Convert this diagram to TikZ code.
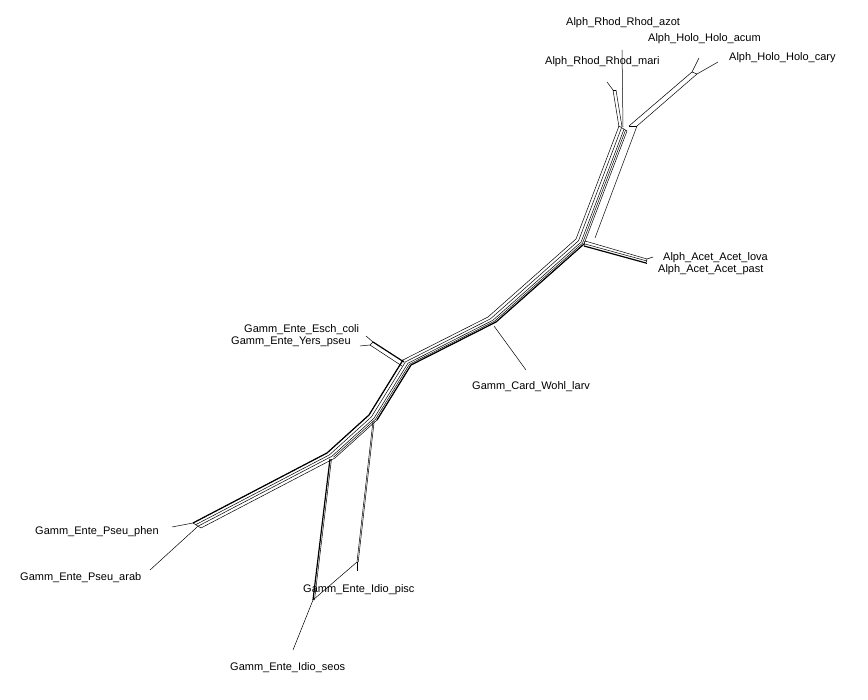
\documentclass[tikz,border=0pt]{standalone}
\usepackage{fontspec}
\setmainfont{Liberation Sans}
\usetikzlibrary{calc}
\begin{document}
\begin{tikzpicture}[x=1pt,y=-1pt,
  edge/.style={line width=0.5pt, black},
  heavy/.style={line width=1.2pt, black},
  lbl/.style={font=\fontsize{11}{13}\selectfont, anchor=west, inner sep=0pt}]
\useasboundingbox[fill=white] (0,0) rectangle (868,700);

% backbone vertices (top line of the band)
\coordinate (A) at (193,523);
\coordinate (B) at (327,453);
\coordinate (C) at (369,415);
\coordinate (D) at (403,360);
\coordinate (E) at (488,317);
\coordinate (F) at (576,239);
\coordinate (G) at (619,126);

% parallel edges of the main band
\foreach \dx/\dy in {0/0,2.5/1.8,5/3.2,8/5}
  \draw[edge] ($(A)+(\dx,\dy)$) -- ($(B)+(\dx,\dy)$) -- ($(C)+(\dx,\dy)$) -- ($(D)+(\dx,\dy)$)
     -- ($(E)+(\dx,\dy)$) -- ($(F)+(\dx,\dy)$) -- ($(G)+(\dx,\dy)$);
\draw[edge] ($(B)+(6.5,4.2)$) -- ($(C)+(6.5,4.2)$) -- ($(D)+(6.5,4.2)$) -- ($(E)+(6.5,4.2)$)
     -- ($(F)+(6.5,4.2)$) -- ($(G)+(6.5,4.2)$);
\draw[heavy] (A) -- (B) -- (C) -- (D);
\draw[heavy] ($(C)+(8,5)$) -- ($(D)+(8,5)$) -- ($(E)+(8,5)$) -- ($(F)+(8,5)$);
% band ends
\draw[edge] (A) -- ($(A)+(8,5)$);
\draw[edge] (G) -- ($(G)+(8,5)$);

% Pseudomonas leaves
\coordinate (phen) at (172,527);
\coordinate (arab) at (150,570);
\draw[edge] (A) -- (phen);
\draw[edge] ($(A)+(5,3.2)$) -- (arab);

% Idiomarina branches
\coordinate (Bi) at (330,459);
\coordinate (Ci) at (373,421);
\coordinate (Ib) at (313,600);
\coordinate (Ic) at (357,562);
\coordinate (pisc) at (357,571);
\coordinate (seos) at (293,650);
\draw[heavy] (Bi) -- (Ib);
\draw[edge] ($(Bi)+(1.5,0)$) -- ($(Ib)+(1.5,0)$);
\draw[edge] (Ci) -- (Ic);
\draw[edge] ($(Ci)+(1.2,0)$) -- ($(Ic)+(1.2,0)$);
\draw[edge] (Ic) -- (pisc);
\draw[edge] (Ic) -- (Ib);
\draw[edge] (Ib) -- (seos);

% Escherichia / Yersinia
\coordinate (Dy) at (404,362);
\coordinate (Yn) at (373,342);
\coordinate (esch) at (366,336);
\coordinate (yers) at (360,346);
\draw[heavy] (Dy) -- (Yn);
\draw[edge] ($(Dy)+(-2,4)$) -- ($(Yn)+(-3,3)$);
\draw[edge] (Yn) -- ($(Yn)+(-3,3)$);
\draw[edge] (Yn) -- (esch);
\draw[edge] ($(Yn)+(-3,3)$) -- (yers);

% Wohlfahrtiimonas
\coordinate (Ew) at (494,326);
\coordinate (wohl) at (526,370);
\draw[edge] (Ew) -- (wohl);

% Acetobacter
\coordinate (Fa) at (585,241);
\coordinate (Af) at (647,259);
\coordinate (lova) at (653,257);
\coordinate (past) at (646,264);
\draw[edge] (Fa) -- (Af);
\draw[edge] ($(Fa)+(0,3)$) -- ($(Af)+(0,2)$);
\draw[heavy] ($(Fa)+(-1,5)$) -- ($(Af)+(-1,4)$);
\draw[edge] (Fa) -- ($(Fa)+(-1,5)$);
\draw[edge] (Af) -- (lova);
\draw[edge] ($(Af)+(-1,4)$) -- (past);
\draw[edge] (Af) -- ($(Af)+(-1,4)$);

% Holospora
\coordinate (Gh) at (629,126);
\coordinate (Hh) at (692,72);
\coordinate (acum) at (699,58);
\coordinate (cary) at (718,62);
\draw[edge] (Gh) -- (Hh);
\draw[edge] ($(Gh)+(8,0)$) -- ($(Hh)+(5,2)$);
\draw[edge] (Hh) -- ($(Hh)+(5,2)$);
\draw[edge] (Gh) -- ($(Gh)+(8,0)$);
\draw[edge] ($(Gh)+(8,0)$) -- (595,238);
\draw[edge] (Hh) -- (acum);
\draw[edge] ($(Hh)+(5,2)$) -- (cary);

% Rhodospirillum
\coordinate (Gr) at (619,127);
\coordinate (Rr) at (613,90);
\coordinate (mari) at (607,82);
\coordinate (azot) at (622,50);
\draw[edge] (Gr) -- (Rr);
\draw[edge] ($(Gr)+(3,0)$) -- ($(Rr)+(3,0)$);
\draw[edge] (Rr) -- ($(Rr)+(3,0)$);
\draw[edge] ($(Gr)+(4,0)$) -- (azot);
\draw[edge] (Rr) -- (mari);

% taxon labels
\node[lbl] (Lazot) at (566,23) {Alph\_Rhod\_Rhod\_azot};
\node[lbl] (Lacum) at (648,39) {Alph\_Holo\_Holo\_acum};
\node[lbl] (Lcary) at (729,58) {Alph\_Holo\_Holo\_cary};
\node[lbl] (Lmari) at (545,62) {Alph\_Rhod\_Rhod\_mari};
\node[lbl] (Llova) at (663,258) {Alph\_Acet\_Acet\_lova};
\node[lbl] (Lpast) at (658,270) {Alph\_Acet\_Acet\_past};
\node[lbl] (Lesch) at (244,330) {Gamm\_Ente\_Esch\_coli};
\node[lbl] (Lyers) at (231,342) {Gamm\_Ente\_Yers\_pseu};
\node[lbl] (Lwohl) at (472,387) {Gamm\_Card\_Wohl\_larv};
\node[lbl] (Lphen) at (35,532) {Gamm\_Ente\_Pseu\_phen};
\node[lbl] (Larab) at (20,578) {Gamm\_Ente\_Pseu\_arab};
\node[lbl] (Lpisc) at (303,590) {Gamm\_Ente\_Idio\_pisc};
\node[lbl] (Lseos) at (230,668) {Gamm\_Ente\_Idio\_seos};
\end{tikzpicture}
\end{document}
